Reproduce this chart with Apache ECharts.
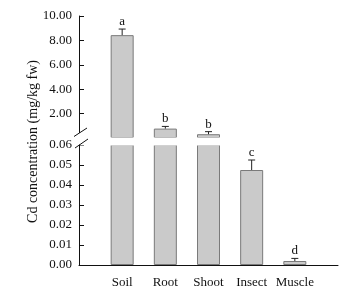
<!DOCTYPE html>
<html><head><meta charset="utf-8">
<script src="https://cdn.jsdelivr.net/npm/echarts@6/dist/echarts.min.js"></script>
<style>html,body{margin:0;padding:0;background:#fff}#c{width:355px;height:295px}</style>
</head><body><div id="c"></div>
<script>
// ---- data ----
const categories = ['Soil', 'Root', 'Shoot', 'Insect', 'Muscle'];
const means = [8.43, 0.77, 0.31, 0.0475, 0.0020];
const errors = [0.50, 0.18, 0.21, 0.0050, 0.0013];
const letters = ['a', 'b', 'b', 'c', 'd'];
const upperRange = [0, 10, 2];      // min, max, step (mg/kg fw)
const lowerRange = [0, 0.06, 0.01]; // min, max, step
const breakValue = 0.06;
const yTitle = 'Cd concentration (mg/kg fw)';

// ---- build ----
const FONT = 'Liberation Serif';
const axisCats = [' ', ...categories, '  '];
const upperBars = [null, ...means.map(v => v > breakValue ? v : null), null];
const lowerBars = [null, ...means, null];
const upperErr = [], lowerErr = [];
means.forEach((v, i) => {
  (v > breakValue ? upperErr : lowerErr).push([i + 1, v, errors[i], i]);
});

function errItem(params, api) {
  const x = api.value(0), v = api.value(1), e = api.value(2), idx = api.value(3);
  const b = api.coord([x, v]);
  const t = api.coord([x, v + e]);
  const half = 3.5;
  return {
    type: 'group', children: [
      { type: 'line', shape: { x1: b[0], y1: b[1], x2: t[0], y2: t[1] }, style: { stroke: '#222', lineWidth: 1 } },
      { type: 'line', shape: { x1: t[0] - half, y1: t[1], x2: t[0] + half, y2: t[1] }, style: { stroke: '#222', lineWidth: 1 } },
      { type: 'text', x: t[0], y: t[1] - 1, style: { text: letters[idx], fill: '#111', font: '13px "' + FONT + '"', align: 'center', verticalAlign: 'bottom' } }
    ]
  };
}

const barStyle = { color: '#cacaca', borderColor: '#7a7a7a', borderWidth: 1 };
const axisLbl = { color: '#111', fontFamily: FONT, fontSize: 13 };

const chart = echarts.init(document.getElementById('c'), null, { renderer: 'canvas' });
chart.setOption({
  animation: false,
  backgroundColor: '#fff',
  grid: [
    { left: 79, right: 17, top: 16, height: 122, outerBoundsMode: 'none' },
    { left: 79, right: 17, top: 145, height: 120, outerBoundsMode: 'none' }
  ],
  xAxis: [
    { gridIndex: 0, type: 'category', data: axisCats, boundaryGap: false, show: false },
    { gridIndex: 1, type: 'category', data: axisCats, boundaryGap: false,
      axisLine: { lineStyle: { color: '#111', width: 1 } }, axisTick: { show: false },
      axisLabel: Object.assign({ margin: 11, interval: 0 }, axisLbl), splitLine: { show: false } }
  ],
  yAxis: [
    { gridIndex: 0, type: 'value', min: upperRange[0], max: upperRange[1], interval: upperRange[2],
      axisLine: { show: true, lineStyle: { color: '#111', width: 1 } },
      axisTick: { show: true, inside: true, length: 5, lineStyle: { color: '#111' } },
      axisLabel: Object.assign({ margin: 7, formatter: v => v === 0 ? '' : v.toFixed(2) }, axisLbl),
      splitLine: { show: false } },
    { gridIndex: 1, type: 'value', min: lowerRange[0], max: lowerRange[1], interval: lowerRange[2],
      axisLine: { show: true, lineStyle: { color: '#111', width: 1 } },
      axisTick: { show: true, inside: true, length: 5, lineStyle: { color: '#111' } },
      axisLabel: Object.assign({ margin: 7, formatter: v => v.toFixed(2) }, axisLbl),
      splitLine: { show: false } }
  ],
  series: [
    { type: 'bar', xAxisIndex: 0, yAxisIndex: 0, data: upperBars, barWidth: 23, itemStyle: barStyle, clip: true },
    { type: 'bar', xAxisIndex: 1, yAxisIndex: 1, data: lowerBars, barWidth: 23, itemStyle: barStyle, clip: true },
    { type: 'custom', xAxisIndex: 0, yAxisIndex: 0, data: upperErr, renderItem: errItem, z: 5 },
    { type: 'custom', xAxisIndex: 1, yAxisIndex: 1, data: lowerErr, renderItem: errItem, z: 5 }
  ]
});

// axis break decoration + rotated title
const axX = chart.convertToPixel({ xAxisIndex: 1 }, 0);
const axR = chart.convertToPixel({ xAxisIndex: 1 }, axisCats.length - 1);
const yUp = chart.convertToPixel({ yAxisIndex: 0 }, upperRange[0]);
const yLo = chart.convertToPixel({ yAxisIndex: 1 }, lowerRange[1]);
chart.setOption({
  graphic: [
    // gap between the two panels (hides the cut bar edges)
    { type: 'rect', shape: { x: axX + 1, y: yUp - 0.5, width: axR - axX, height: (yLo - yUp) + 1 }, style: { fill: '#fff' }, z: 10 },
    { type: 'rect', shape: { x: axX - 2, y: yUp - 5, width: 9, height: (yLo - yUp) + 3 }, style: { fill: '#fff' }, z: 10 },
    { type: 'line', shape: { x1: axX - 5, y1: yUp - 1.5, x2: axX + 8, y2: yUp - 10 }, style: { stroke: '#111', lineWidth: 1 }, z: 11 },
    { type: 'line', shape: { x1: axX - 4, y1: yLo + 3, x2: axX + 9, y2: yLo - 6 }, style: { stroke: '#111', lineWidth: 1 }, z: 11 },
    { type: 'text', x: 33, y: (yUp + yLo) / 2, rotation: Math.PI / 2,
      style: { text: yTitle, fill: '#111', font: '14px "' + FONT + '"', align: 'center', verticalAlign: 'middle' }, z: 11 }
  ]
});
</script>
</body></html>
